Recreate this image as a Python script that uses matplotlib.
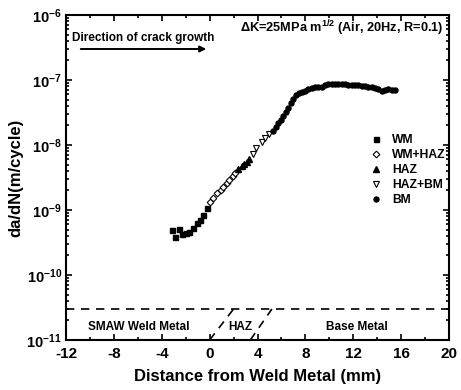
import numpy as np
import matplotlib
matplotlib.use("Agg")
import matplotlib.pyplot as plt
from matplotlib.ticker import MultipleLocator, LogLocator, NullFormatter

plt.rcParams['font.family'] = ['Liberation Sans', 'DejaVu Sans']
plt.rcParams['font.weight'] = 'bold'
plt.rcParams['mathtext.fontset'] = 'custom'
plt.rcParams['mathtext.rm'] = 'Liberation Sans:bold'
plt.rcParams['mathtext.it'] = 'Liberation Sans:bold'
plt.rcParams['mathtext.bf'] = 'Liberation Sans:bold'

# Data: distance (mm), da/dN (m/cycle)
wm_x = [-3.17, -2.89, -2.56, -2.28, -2.00, -1.72, -1.36, -1.08, -0.80, -0.53, -0.24]
wm_y = [4.92e-10, 3.88e-10, 5.05e-10, 4.27e-10, 4.47e-10, 4.63e-10, 5.35e-10,
        6.24e-10, 7.02e-10, 8.38e-10, 1.06e-9]

wmhaz_x = [0.03, 0.31, 0.64, 0.93, 1.14, 1.43, 1.64, 1.93, 2.15]
wmhaz_y = [1.34e-9, 1.51e-9, 1.85e-9, 2.03e-9, 2.28e-9, 2.58e-9, 2.90e-9, 3.34e-9, 3.75e-9]

haz_x = [2.40, 2.68, 2.87, 3.10, 3.31]
haz_y = [4.23e-9, 4.75e-9, 5.10e-9, 5.53e-9, 6.03e-9]

hazbm_x = [3.65, 3.87, 4.35, 4.63, 4.99]
hazbm_y = [7.27e-9, 8.90e-9, 1.12e-8, 1.27e-8, 1.48e-8]

bm_x = [5.32, 5.55, 5.74, 5.94, 6.16, 6.38, 6.57, 6.77, 6.99, 7.22, 7.49, 7.69,
        7.97, 8.24, 8.53, 8.80, 9.08, 9.36, 9.64, 9.92, 10.20, 10.47, 10.75,
        11.03, 11.31, 11.59, 11.87, 12.15, 12.42, 12.71, 12.98, 13.26, 13.54,
        13.82, 14.09, 14.38, 14.65, 14.93, 15.21, 15.49]
bm_y = [1.66e-8, 1.87e-8, 2.16e-8, 2.43e-8, 2.79e-8, 3.25e-8, 3.75e-8, 4.38e-8,
        5.05e-8, 5.88e-8, 6.38e-8, 6.61e-8, 6.85e-8, 7.19e-8, 7.45e-8, 7.73e-8,
        7.89e-8, 7.89e-8, 8.38e-8, 8.68e-8, 8.77e-8, 8.68e-8, 8.68e-8, 8.59e-8,
        8.59e-8, 8.47e-8, 8.47e-8, 8.38e-8, 8.29e-8, 8.17e-8, 8.00e-8, 7.89e-8,
        7.73e-8, 7.45e-8, 7.19e-8, 6.85e-8, 7.02e-8, 7.19e-8, 7.10e-8, 7.02e-8]

# zone boundaries (HAZ band) and threshold line
zone_level = 3e-11
haz_left = ([0.0, 2.0], [1e-11, 3e-11])
haz_right = ([3.4, 5.2], [1e-11, 3e-11])

xticks = [-12, -8, -4, 0, 4, 8, 12, 16, 20]
yticks = [1e-11, 1e-10, 1e-9, 1e-8, 1e-7, 1e-6]
ytick_labels = [r'$10^{-11}$', r'$10^{-10}$', r'$10^{-9}$', r'$10^{-8}$',
                r'$10^{-7}$', r'$10^{-6}$']

fig = plt.figure(figsize=(4.61, 3.90), dpi=100)
ax = fig.add_axes([0.1432, 0.1282, 0.8308, 0.8333])

ms = 3.6
ax.plot(wm_x, wm_y, 's', color='k', ms=ms, label='WM')
ax.plot(wmhaz_x, wmhaz_y, 'D', mfc='white', mec='k', mew=0.8, ms=3.4, label='WM+HAZ')
ax.plot(haz_x, haz_y, '^', color='k', ms=ms + 0.4, label='HAZ')
ax.plot(hazbm_x, hazbm_y, 'v', mfc='white', mec='k', mew=0.8, ms=ms + 0.6, label='HAZ+BM')
ax.plot(bm_x, bm_y, 'o', color='k', ms=ms, label='BM')

ax.axhline(zone_level, color='k', ls=(0, (5, 4)), lw=1.2)
ax.plot(*haz_left, color='k', ls=(0, (5, 4)), lw=1.2)
ax.plot(*haz_right, color='k', ls=(0, (5, 4)), lw=1.2)

ax.text(-5.9, 1.58e-11, 'SMAW Weld Metal', ha='center', va='center', fontsize=8.5,
        fontweight='bold')
ax.text(2.55, 1.58e-11, 'HAZ', ha='center', va='center', fontsize=8.5, fontweight='bold',
        bbox=dict(facecolor='white', edgecolor='none', pad=0.5))
ax.text(12.3, 1.58e-11, 'Base Metal', ha='center', va='center', fontsize=8.5,
        fontweight='bold')

ax.text(-11.5, 4.5e-7, 'Direction of crack growth', ha='left', va='center',
        fontsize=8.5, fontweight='bold')
ax.annotate('', xy=(-0.05, 3.0e-7), xytext=(-11.0, 3.0e-7),
            arrowprops=dict(arrowstyle='-|>', color='k', lw=1.4, mutation_scale=9))
ax.text(19.5, 6.2e-7, '\u0394K=25MPa m$^{1/2}$ (Air, 20Hz, R=0.1)', ha='right',
        va='center', fontsize=9.2, fontweight='bold')

ax.set_yscale('log')
ax.set_xlim(-12, 20)
ax.set_ylim(1e-11, 1e-6)
ax.set_xticks(xticks)
ax.set_xticklabels([str(t) for t in xticks])
ax.xaxis.set_minor_locator(MultipleLocator(2))
ax.set_yticks(yticks)
ax.set_yticklabels(ytick_labels)
ax.yaxis.set_minor_locator(LogLocator(base=10, subs=np.arange(2, 10)))
ax.yaxis.set_minor_formatter(NullFormatter())

ax.tick_params(which='both', direction='in', top=True, right=True, width=1.2)
ax.tick_params(which='major', length=4, labelsize=10.5)
ax.tick_params(axis='x', which='major', labelsize=11, pad=5)
ax.tick_params(axis='y', which='major', pad=3)
ax.tick_params(which='minor', length=2)
for s in ax.spines.values():
    s.set_linewidth(1.5)

ax.set_xlabel('Distance from Weld Metal (mm)', fontsize=12, fontweight='bold', labelpad=6)
ax.set_ylabel('da/dN(m/cycle)', fontsize=12, fontweight='bold', labelpad=2)

ax.legend(loc='upper left', bbox_to_anchor=(0.794, 0.634), frameon=False,
          handlelength=1.0, handletextpad=0.8, labelspacing=0.25,
          borderpad=0, borderaxespad=0, prop={'weight': 'bold', 'size': 8.7})

fig.savefig('out.png', dpi=100)
